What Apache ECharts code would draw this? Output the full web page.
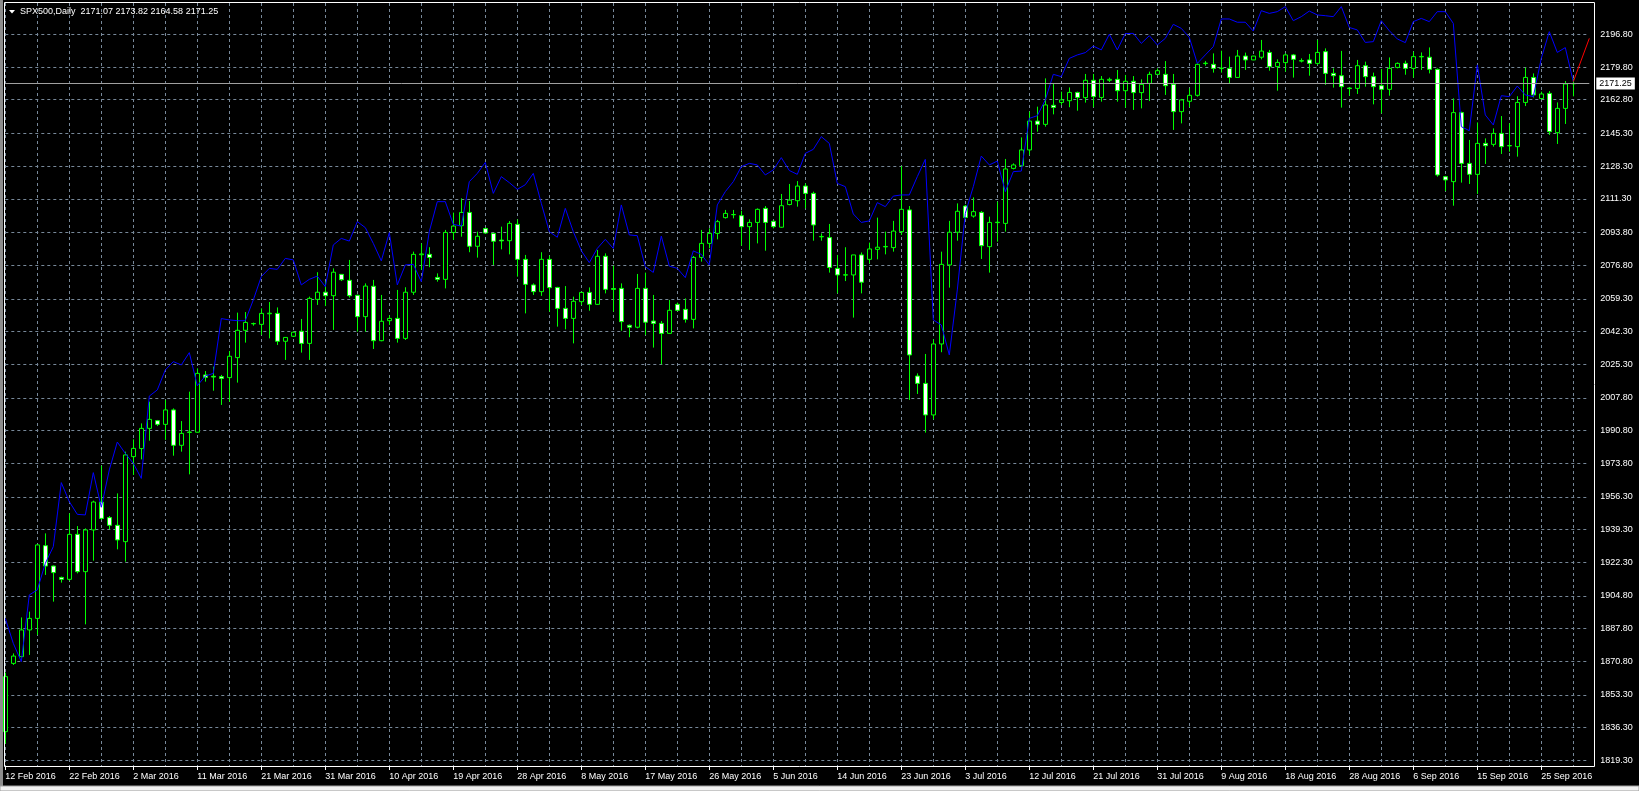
<!DOCTYPE html>
<html><head><meta charset="utf-8">
<script src="https://cdn.jsdelivr.net/npm/echarts@6/dist/echarts.min.js"></script>
<style>html,body{margin:0;padding:0;background:#000;overflow:hidden}#c{width:1639px;height:791px}</style>
</head><body><div id="c"></div>
<script>
const symbolName = 'SPX500,Daily';
const dateLabels = ['12 Feb 2016','22 Feb 2016','2 Mar 2016','11 Mar 2016','21 Mar 2016','31 Mar 2016','10 Apr 2016','19 Apr 2016','28 Apr 2016','8 May 2016','17 May 2016','26 May 2016','5 Jun 2016','14 Jun 2016','23 Jun 2016','3 Jul 2016','12 Jul 2016','21 Jul 2016','31 Jul 2016','9 Aug 2016','18 Aug 2016','28 Aug 2016','6 Sep 2016','15 Sep 2016','25 Sep 2016'];
const priceTicks = [1819.30,1836.30,1853.30,1870.80,1887.80,1904.80,1922.30,1939.30,1956.30,1973.80,1990.80,2007.80,2025.30,2042.30,2059.30,2076.80,2093.80,2111.30,2128.30,2145.30,2162.80,2179.80,2196.80];

const opens = [1834.2,1869.7,1873.2,1887.1,1893.1,1930.9,1920.3,1914.4,1913.4,1936.8,1917.4,1939.1,1953.6,1945.5,1941.5,1933.0,1977.2,1981.4,1991.9,1995.9,
1994.0,2001.5,1983.1,1989.8,1989.9,2019.7,2019.0,2018.8,2018.3,2028.7,2042.9,2046.4,2046.0,2051.5,2051.7,2037.2,2039.8,2042.4,2036.1,2059.0,
2062.7,2060.9,2072.0,2068.9,2061.1,2050.0,2065.8,2037.5,2047.9,2049.1,2038.7,2062.7,2082.2,2082.4,2070.4,2069.4,2093.8,2097.3,2104.2,2086.6,
2095.8,2093.3,2089.8,2089.5,2098.0,2079.8,2066.5,2063.0,2079.8,2065.2,2054.3,2049.1,2057.8,2062.6,2056.4,2081.4,2064.6,2064.7,2045.5,2044.5,
2064.7,2047.7,2046.5,2041.3,2056.4,2053.8,2048.6,2080.8,2088.1,2093.3,2101.5,2103.0,2102.5,2096.8,2099.0,2106.3,2099.6,2096.5,2108.3,2110.3,
2117.9,2114.1,2091.5,2091.1,2075.1,2071.6,2071.7,2082.1,2079.8,2085.0,2086.3,2085.9,2094.2,2105.5,2019.1,2015.3,1998.9,2035.8,2076.9,2093.9,
2107.5,2102.3,2104.2,2086.4,2099.1,2098.5,2127.1,2128.5,2136.7,2151.7,2150.0,2159.9,2161.4,2162.3,2166.6,2163.9,2172.9,2164.0,2172.9,2173.4,
2167.5,2172.4,2166.5,2171.3,2176.0,2176.0,2170.8,2156.6,2162.0,2165.1,2181.6,2181.2,2179.0,2179.1,2174.4,2185.5,2183.5,2184.9,2187.4,2180.0,
2182.1,2186.1,2183.1,2183.5,2181.7,2187.8,2176.5,2175.3,2168.9,2168.7,2180.5,2174.8,2170.1,2168.2,2179.6,2181.7,2179.1,2185.1,2184.9,2178.6,
2122.8,2120.2,2156.1,2129.7,2124.0,2140.1,2139.6,2145.3,2138.8,2138.4,2161.4,2174.4,2163.4,2166.1,2145.7,2158.3,2171.07];
const highs = [1864.9,1874.9,1893.6,1896.6,1931.6,1937.3,1920.6,1914.8,1947.7,1941.1,1939.9,1954.3,1972.5,1946.3,1958.1,1979.8,1986.2,1994.5,2005.8,1996.3,
2006.7,2002.3,1995.7,2011.0,2023.1,2021.7,2024.0,2019.7,2032.1,2052.1,2052.4,2046.9,2054.3,2057.6,2054.8,2039.2,2042.2,2048.8,2060.4,2073.1,
2068.2,2075.1,2072.0,2079.5,2061.4,2067.3,2069.1,2061.3,2050.7,2063.9,2065.3,2083.8,2088.1,2086.1,2072.5,2095.1,2104.1,2111.5,2110.1,2094.2,
2096.3,2093.5,2096.8,2099.7,2100.6,2082.1,2067.3,2083.5,2081.7,2065.5,2065.9,2060.4,2063.0,2065.2,2084.7,2082.9,2076.5,2067.3,2045.9,2072.2,
2072.9,2061.3,2047.7,2058.7,2057.3,2059.5,2081.5,2095.1,2095.9,2100.3,2105.5,2105.5,2105.1,2100.6,2106.3,2107.5,2100.0,2113.8,2119.0,2120.5,
2119.3,2115.0,2093.3,2098.2,2082.1,2086.1,2082.1,2083.4,2088.5,2101.5,2094.2,2099.8,2128.3,2107.5,2020.5,2030.6,2038.2,2083.8,2099.8,2108.9,
2108.1,2112.0,2104.9,2102.0,2109.8,2132.0,2129.7,2143.2,2156.6,2159.2,2173.9,2171.3,2167.0,2169.2,2167.0,2176.2,2176.2,2175.1,2174.3,2178.3,
2175.7,2175.1,2173.4,2177.4,2179.1,2182.9,2176.2,2163.2,2168.7,2181.7,2182.9,2186.9,2188.3,2185.2,2188.7,2187.3,2185.6,2193.9,2188.7,2183.8,
2186.9,2186.6,2184.3,2186.6,2193.9,2189.5,2179.1,2188.2,2169.2,2183.5,2182.6,2176.9,2178.8,2184.8,2182.2,2183.1,2187.8,2187.4,2190.0,2179.1,
2123.2,2163.5,2156.6,2141.9,2151.0,2142.7,2147.9,2154.3,2150.5,2164.6,2179.5,2176.5,2167.0,2167.3,2161.4,2172.5,2173.82];
const lows = [1828.0,1868.9,1872.9,1874.1,1884.5,1915.7,1901.8,1911.7,1912.7,1916.5,1890.0,1923.1,1944.3,1939.4,1929.0,1922.6,1967.7,1975.8,1985.5,1993.1,
1985.9,1977.7,1979.8,1968.0,1989.7,2016.2,2011.5,2004.1,2005.8,2015.7,2036.5,2045.3,2040.5,2038.7,2035.3,2027.5,2039.4,2031.3,2027.5,2056.1,
2055.5,2043.1,2068.5,2059.9,2042.2,2042.2,2033.2,2037.2,2045.7,2036.5,2037.9,2061.3,2074.3,2075.7,2068.2,2064.7,2089.9,2091.6,2083.5,2080.7,
2093.2,2076.9,2085.0,2082.4,2070.8,2051.7,2061.3,2060.8,2052.6,2044.8,2043.4,2036.1,2056.1,2053.1,2056.1,2062.1,2052.6,2042.7,2039.3,2043.9,
2040.5,2033.9,2025.2,2041.0,2053.0,2046.9,2043.9,2078.6,2085.5,2090.2,2101.0,2101.1,2086.9,2084.7,2088.1,2084.3,2095.9,2096.2,2107.9,2107.2,
2106.3,2089.5,2089.5,2072.9,2062.1,2068.5,2049.5,2062.1,2077.7,2079.8,2082.4,2083.8,2092.5,2006.7,2009.8,1989.7,1996.6,2031.5,2065.1,2089.5,
2101.1,2101.5,2080.0,2072.9,2089.0,2094.2,2126.6,2128.0,2134.1,2146.2,2148.8,2155.2,2160.1,2158.9,2157.1,2161.3,2158.9,2161.8,2172.0,2161.8,
2158.7,2157.5,2158.3,2162.1,2175.7,2165.3,2147.1,2150.5,2158.9,2164.4,2180.5,2176.9,2176.9,2171.3,2174.2,2178.3,2183.4,2183.8,2177.9,2167.5,
2177.4,2174.3,2182.2,2175.3,2180.9,2170.5,2169.1,2158.7,2164.9,2165.8,2169.6,2160.4,2155.7,2164.9,2179.1,2175.8,2174.3,2178.3,2176.5,2122.8,
2115.3,2107.7,2119.7,2119.0,2113.8,2129.4,2138.4,2134.6,2135.8,2133.2,2159.5,2164.0,2163.0,2144.5,2139.8,2150.2,2164.58];
const closes = [1862.8,1873.5,1887.1,1893.1,1931.3,1920.3,1916.9,1913.4,1936.8,1917.4,1939.1,1953.6,1945.1,1941.5,1933.9,1978.1,1981.5,1991.9,1996.6,1994.0,
2001.5,1983.1,1989.3,1990.0,2020.5,2018.4,2018.6,2017.9,2029.4,2042.9,2047.0,2046.3,2051.7,2051.8,2037.2,2039.2,2041.9,2036.1,2059.5,2062.7,
2060.9,2073.1,2069.2,2060.9,2050.0,2065.9,2037.5,2047.6,2049.1,2038.7,2062.7,2082.4,2082.6,2080.8,2069.4,2093.8,2097.1,2104.2,2086.6,2091.8,
2093.5,2089.2,2089.4,2098.5,2079.8,2066.8,2063.0,2079.8,2065.1,2054.3,2049.1,2058.0,2062.6,2056.4,2081.4,2064.2,2064.2,2047.4,2044.5,2064.7,
2047.1,2046.5,2041.3,2053.3,2053.3,2048.6,2080.8,2088.1,2093.3,2099.4,2103.7,2103.1,2096.8,2099.0,2105.8,2099.0,2096.8,2107.7,2110.6,2117.9,
2114.1,2097.7,2091.7,2075.6,2071.7,2071.8,2082.1,2067.9,2085.2,2086.1,2086.5,2094.5,2105.8,2030.1,2015.3,1998.9,2035.8,2077.2,2093.9,2104.8,
2101.6,2104.6,2086.9,2099.0,2098.9,2126.8,2128.9,2136.7,2151.7,2150.0,2160.1,2158.8,2162.7,2166.6,2164.0,2172.9,2164.4,2173.4,2173.4,2167.5,
2172.4,2166.5,2170.8,2176.0,2177.9,2170.1,2156.6,2162.7,2165.1,2181.2,2181.8,2179.1,2179.2,2174.4,2185.5,2183.5,2185.5,2188.1,2180.0,2182.2,
2186.1,2183.8,2182.9,2181.7,2187.4,2176.5,2175.3,2169.6,2168.6,2180.5,2174.8,2169.6,2168.2,2179.1,2181.7,2179.1,2185.2,2185.3,2178.6,2123.7,
2121.1,2156.1,2129.7,2124.0,2140.1,2138.9,2145.3,2138.4,2139.0,2161.4,2174.4,2165.3,2165.8,2146.2,2158.3,2171.0,2171.25];
const blueLine = [1893.1,1880.1,1870.6,1905.3,1907.9,1921.7,1930.4,1963.7,1953.8,1947.2,1946.9,1968.9,1950.9,1970.3,1984.8,1978.9,1973.7,1965.9,2008.7,2011.9,
2022.3,2026.6,2024.9,2031.3,2014.1,2019.1,2020.5,2049.0,2048.3,2047.9,2047.9,2058.7,2070.8,2075.1,2074.6,2080.3,2079.5,2066.5,2069.4,2071.1,
2065.6,2087.3,2090.7,2089.3,2099.4,2096.3,2088.1,2079.0,2093.7,2066.5,2076.9,2077.2,2068.2,2094.2,2109.8,2109.8,2098.0,2097.1,2120.2,2124.5,
2130.2,2114.1,2122.8,2119.7,2116.2,2118.6,2124.5,2108.9,2094.2,2091.3,2106.3,2094.2,2084.3,2078.1,2085.5,2090.2,2085.5,2108.1,2092.5,2092.1,
2076.0,2073.0,2091.9,2076.3,2075.1,2070.3,2084.2,2082.4,2076.9,2108.1,2115.0,2120.2,2128.0,2129.7,2128.9,2123.7,2126.3,2132.7,2126.0,2124.0,
2134.9,2137.0,2143.6,2140.1,2119.3,2117.6,2103.4,2099.0,2099.8,2109.3,2107.2,2112.7,2113.3,2113.3,2122.8,2131.8,2048.3,2045.7,2030.1,2063.9,
2103.7,2117.6,2133.5,2128.9,2130.9,2115.0,2125.4,2125.7,2153.1,2154.5,2162.7,2176.0,2174.8,2184.3,2186.1,2187.3,2190.7,2188.7,2196.8,2188.7,
2197.2,2197.3,2192.1,2196.1,2191.3,2194.7,2202.0,2199.9,2195.2,2181.7,2186.1,2190.4,2204.8,2204.8,2203.1,2203.1,2198.5,2209.1,2207.7,2208.6,
2211.2,2203.9,2206.0,2208.9,2206.9,2206.5,2206.0,2211.2,2200.4,2199.1,2192.6,2193.0,2203.9,2198.7,2194.4,2192.5,2203.4,2205.1,2203.4,2208.6,
2208.6,2202.5,2148.8,2146.7,2180.9,2154.9,2149.7,2164.9,2164.4,2169.9,2165.3,2164.4,2184.3,2198.2,2187.4,2189.9,2172.2];
const projectionLine = [2172.2, 2194.7];   // red segment, last bar -> two bars ahead
const lastPrice = 2171.25;

const BAR_SLOTS = opens.length + 2;
const categories = Array.from({length: BAR_SLOTS}, (_, i) => String(i));
const candleData = opens.map((o, i) => [o, closes[i], lows[i], highs[i]]);
const redData = categories.map(() => null);
redData[opens.length - 1] = projectionLine[0];
redData[opens.length + 1] = projectionLine[1];

const FONT = 'Liberation Sans';
const gridColor = '#778899';
const last = opens.length - 1;
const headerText = symbolName + '  ' + [opens[last], highs[last], lows[last], closes[last]].map(v => v.toFixed(2)).join(' ');

const chart = echarts.init(document.getElementById('c'), null, {renderer: 'canvas'});
chart.setOption({
  backgroundColor: '#000000',
  animation: false,
  textStyle: {fontFamily: FONT},
  grid: {left: 5.3, right: 49.7, top: 3, bottom: 25, containLabel: false},
  xAxis: {
    type: 'category',
    data: categories,
    boundaryGap: false,
    axisLine: {show: false},
    axisTick: {show: true, interval: 7, length: 4, lineStyle: {color: '#ffffff', width: 1}},
    axisLabel: {
      interval: 7, color: '#ffffff', fontSize: 9, fontFamily: FONT, align: 'left', margin: 6,
      formatter: (v, idx) => (idx % 8 === 0 && dateLabels[idx / 8]) ? dateLabels[idx / 8] : ''
    },
    splitLine: {show: true, interval: 3, lineStyle: {color: gridColor, type: [3, 3], width: 1}}
  },
  yAxis: {
    type: 'value',
    position: 'right',
    min: 1816.34,
    max: 2213.10,
    axisLine: {show: false},
    axisTick: {show: false, customValues: priceTicks},
    axisLabel: {customValues: priceTicks, color: '#ffffff', fontSize: 9, fontFamily: FONT, margin: 11,
      formatter: v => v.toFixed(2)},
    splitLine: {show: true, lineStyle: {color: gridColor, type: [3, 3], width: 1}}
  },
  series: [
    {
      type: 'candlestick',
      data: candleData,
      barWidth: 5,
      itemStyle: {color: '#000000', color0: '#ffffff', borderColor: '#00ff00', borderColor0: '#00ff00', borderColorDoji: '#00ff00', borderWidth: 1},
      markLine: {
        silent: true, symbol: 'none', animation: false,
        lineStyle: {color: '#a0a0a0', type: 'solid', width: 1},
        label: {show: true, position: 'end', distance: 7, formatter: lastPrice.toFixed(2),
          backgroundColor: '#ffffff', color: '#000000', fontSize: 9, fontFamily: FONT, padding: [2, 3, 1, 3]},
        data: [{yAxis: lastPrice}]
      },
      z: 2
    },
    {
      type: 'line', data: blueLine, showSymbol: false, symbol: 'none',
      lineStyle: {color: '#0000ff', width: 1}, itemStyle: {color: '#0000ff'}, z: 3
    },
    {
      type: 'line', data: redData, connectNulls: true, showSymbol: false, symbol: 'none',
      lineStyle: {color: '#ff0000', width: 1}, itemStyle: {color: '#ff0000'}, z: 4
    }
  ],
  graphic: [
    {type: 'rect', left: 0, top: 0, shape: {x: 0, y: 0, width: 3, height: 791}, style: {fill: '#8c8c8c'}, z: 100, silent: true},
    {type: 'rect', shape: {x: 4.5, y: 2.5, width: 1590, height: 764}, style: {fill: null, stroke: '#ffffff', lineWidth: 1}, z: 100, silent: true},
    {type: 'rect', shape: {x: 0, y: 786, width: 1639, height: 5}, style: {fill: '#f0f0f0', stroke: '#a0a0a0', lineWidth: 1}, z: 100, silent: true},
    {type: 'polygon', shape: {points: [[9, 10], [15, 10], [12, 13.5]]}, style: {fill: '#ffffff'}, z: 100, silent: true},
    {type: 'text', x: 20, y: 7, style: {text: headerText, fill: '#ffffff', font: '9px "Liberation Sans"'}, z: 100, silent: true}
  ]
});
</script></body></html>
